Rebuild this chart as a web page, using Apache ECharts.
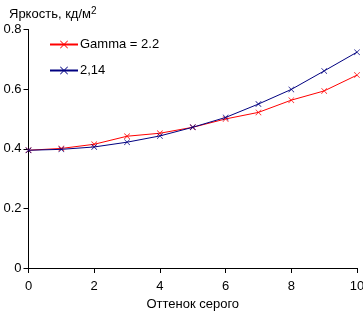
<!DOCTYPE html>
<html>
<head>
<meta charset="utf-8">
<script src="https://cdn.jsdelivr.net/npm/echarts@6/dist/echarts.min.js"></script>
<style>
  html, body { margin: 0; padding: 0; background: #fff; }
  #main { width: 363px; height: 311px; }
</style>
</head>
<body>
<div id="main"></div>
<script>
// data
const categories = [0, 1, 2, 3, 4, 5, 6, 7, 8, 9, 10];
const gamma22 = [0.395, 0.401, 0.415, 0.442, 0.452, 0.472, 0.5, 0.522, 0.563, 0.594, 0.647];
const gamma214 = [0.395, 0.398, 0.406, 0.422, 0.443, 0.472, 0.505, 0.55, 0.599, 0.661, 0.724];
const seriesNames = ["Gamma = 2.2", "2,14"];

// thin x-shaped marker
const cross = "path://M0,0.7L0.7,0L5,4.3L9.3,0L10,0.7L5.7,5L10,9.3L9.3,10L5,5.7L0.7,10L0,9.3L4.3,5Z";
const font = "Liberation Sans, Arial, sans-serif";

var myChart = echarts.init(document.getElementById("main"));

var option = {
  animation: false,
  title: {
    text: "Яркость, кд/м{sup|2}",
    left: 4,
    top: 1,
    textStyle: {
      fontFamily: font, fontSize: 13, fontWeight: "normal", color: "#000",
      rich: { sup: { fontFamily: font, fontSize: 10, color: "#000", verticalAlign: "top", padding: [0, 0, 6, 0] } },
    },
  },
  legend: {
    orient: "vertical",
    left: 49,
    top: 38,
    padding: 0,
    itemWidth: 28,
    itemHeight: 10,
    itemGap: 13,
    textStyle: { fontFamily: font, fontSize: 13, color: "#000", padding: [0, 0, 0, -3] },
    data: seriesNames,
  },
  grid: { left: 28.5, right: 6, top: 29.5, bottom: 43, outerBoundsMode: "none" },
  xAxis: {
    type: "value",
    min: 0,
    max: 10,
    interval: 2,
    name: "Оттенок серого",
    nameLocation: "middle",
    nameGap: 29,
    nameTextStyle: { fontFamily: font, fontSize: 13, color: "#000" },
    axisLine: { lineStyle: { color: "#000", width: 1 } },
    axisTick: { length: 5, lineStyle: { color: "#000" } },
    axisLabel: { fontFamily: font, fontSize: 13, color: "#000", margin: 12 },
    splitLine: { show: false },
  },
  yAxis: {
    type: "value",
    min: 0,
    max: 0.8,
    interval: 0.2,
    axisLine: { show: true, lineStyle: { color: "#000", width: 1 } },
    axisTick: { show: true, length: 5, lineStyle: { color: "#000" } },
    axisLabel: { fontFamily: font, fontSize: 13, color: "#000", margin: 7 },
    splitLine: { show: false },
  },
  series: [
    {
      name: seriesNames[0],
      type: "line",
      data: categories.map((x, i) => [x, gamma22[i]]),
      symbol: cross,
      symbolSize: 6,
      color: "#ff0000",
      lineStyle: { width: 1, color: "#ff0000" },
      itemStyle: { color: "#ff0000" },
      z: 2,
    },
    {
      name: seriesNames[1],
      type: "line",
      data: categories.map((x, i) => [x, gamma214[i]]),
      symbol: cross,
      symbolSize: 6,
      color: "#000080",
      lineStyle: { width: 1, color: "#000080" },
      itemStyle: { color: "#000080" },
      z: 3,
    },
  ],
};

myChart.setOption(option);
</script>
</body>
</html>
